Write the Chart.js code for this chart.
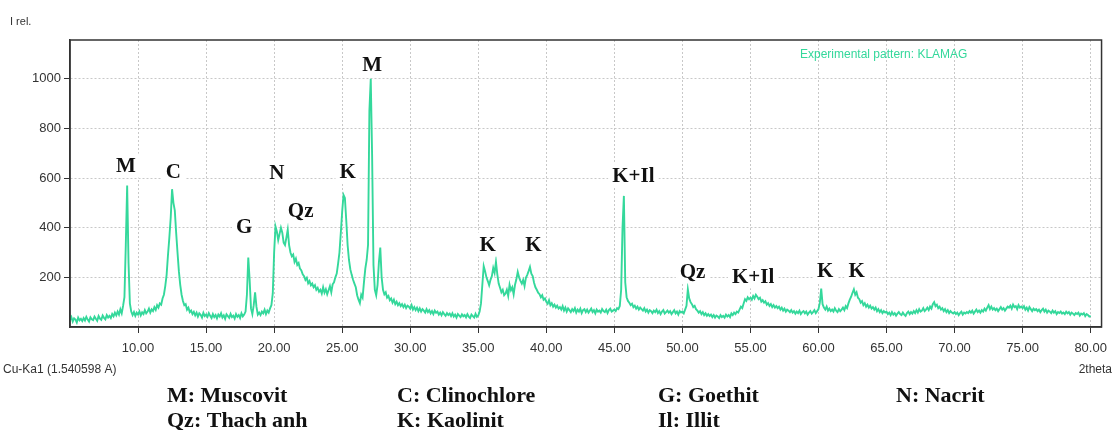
<!DOCTYPE html>
<html>
<head>
<meta charset="utf-8">
<script src="https://cdn.jsdelivr.net/npm/chart.js@4.4.0/dist/chart.umd.min.js"></script>
<style>
  html, body { margin: 0; padding: 0; background: #fff; }
  #wrap { width: 1115px; height: 430px; position: relative; }
</style>
</head>
<body>
<div id="wrap"><canvas id="xrd"></canvas></div>
<script>
// ---- data (2theta 5.0 .. 80.0, step 0.1) ----
const thetaStart = 5.0;
const thetaStep = 0.1;
const intensity = [
  /* 5 */ 28, 40, 22, 35, 30, 18, 38, 27, 33, 24,
  /* 6 */ 36, 26, 41, 30, 22, 39, 31, 28, 42, 33,
  /* 7 */ 25, 44, 34, 29, 46, 37, 31, 48, 38, 45,
  /* 8 */ 36, 52, 43, 58, 47, 62, 50, 71, 55, 85,
  /* 9 */ 120, 330, 570, 260, 95, 62, 48, 60, 45, 58,
  /*10 */ 50, 63, 47, 59, 52, 68, 55, 62, 74, 58,
  /*11 */ 71, 64, 80, 69, 88, 78, 95, 90, 115, 130,
  /*12 */ 165, 210, 290, 360, 440, 555, 500, 470, 380, 300,
  /*13 */ 225, 170, 130, 105, 88, 92, 70, 78, 60, 66,
  /*14 */ 52, 61, 47, 58, 42, 55, 49, 38, 57, 44,
  /*15 */ 50, 41, 56, 45, 36, 52, 40, 48, 35, 50,
  /*16 */ 42, 55, 38, 47, 33, 51, 44, 37, 53, 40,
  /*17 */ 46, 34, 52, 41, 48, 36, 55, 43, 50, 62,
  /*18 */ 130, 280, 190, 75, 52, 88, 140, 82, 50, 58,
  /*19 */ 48, 62, 55, 70, 52, 66, 58, 75, 88, 135,
  /*20 */ 300, 405, 385, 350, 375, 400, 380, 340, 330, 360,
  /*21 */ 392, 330, 300, 285, 292, 262, 275, 250, 258, 235,
  /*22 */ 228, 212, 205, 190, 198, 176, 185, 168, 175, 160,
  /*23 */ 168, 150, 158, 142, 150, 135, 160, 138, 152, 132,
  /*24 */ 148, 165, 140, 172, 180, 200, 215, 255, 300, 380,
  /*25 */ 465, 532, 520, 430, 330, 270, 232, 210, 190, 175,
  /*26 */ 160, 128, 110, 96, 130, 118, 180, 235, 270, 330,
  /*27 */ 870, 1000, 690, 250, 150, 128, 170, 262, 320, 200,
  /*28 */ 150, 132, 140, 118, 125, 108, 115, 98, 110, 92,
  /*29 */ 102, 88, 96, 84, 92, 80, 90, 76, 86, 82,
  /*30 */ 74, 88, 70, 80, 68, 78, 64, 75, 62, 72,
  /*31 */ 66, 58, 72, 60, 68, 55, 64, 52, 66, 57,
  /*32 */ 62, 50, 58, 47, 60, 52, 45, 56, 48, 54,
  /*33 */ 44, 55, 42, 50, 38, 52, 46, 40, 51, 43,
  /*34 */ 48, 39, 52, 42, 36, 50, 44, 38, 53, 41,
  /*35 */ 46, 62, 95, 170, 245, 225, 200, 185, 168, 190,
  /*36 */ 205, 238, 218, 262, 212, 175, 158, 140, 150, 128,
  /*37 */ 135, 150, 125, 170, 148, 160, 132, 170, 192, 222,
  /*38 */ 200, 186, 175, 190, 165, 198, 210, 225, 242, 215,
  /*39 */ 205, 178, 160, 150, 138, 132, 120, 128, 110, 115,
  /*40 */ 102, 94, 108, 88, 96, 82, 90, 78, 86, 74,
  /*41 */ 80, 70, 84, 66, 78, 62, 75, 68, 60, 72,
  /*42 */ 64, 76, 58, 70, 62, 74, 56, 68, 72, 60,
  /*43 */ 70, 58, 66, 74, 60, 68, 55, 70, 62, 66,
  /*44 */ 58, 72, 64, 60, 70, 56, 68, 74, 62, 66,
  /*45 */ 70, 64, 76, 72, 85, 150, 400, 528, 180, 120,
  /*46 */ 105, 98, 88, 94, 80, 86, 74, 82, 70, 78,
  /*47 */ 72, 66, 76, 62, 70, 58, 68, 64, 56, 66,
  /*48 */ 60, 70, 56, 64, 52, 62, 68, 54, 60, 66,
  /*49 */ 58, 64, 52, 60, 68, 55, 62, 50, 64, 58,
  /*50 */ 62, 55, 70, 85, 152, 115, 100, 92, 80, 85,
  /*51 */ 72, 66, 58, 64, 52, 60, 48, 55, 45, 52,
  /*52 */ 44, 50, 40, 48, 38, 46, 42, 36, 48, 40,
  /*53 */ 45, 38, 50, 42, 48, 40, 55, 48, 58, 52,
  /*54 */ 62, 58, 70, 82, 76, 95, 112, 105, 120, 112,
  /*55 */ 118, 110, 125, 115, 130, 122, 112, 118, 102, 108,
  /*56 */ 98, 104, 90, 96, 85, 92, 80, 88, 78, 84,
  /*57 */ 76, 82, 70, 78, 66, 74, 62, 70, 66, 60,
  /*58 */ 68, 58, 64, 54, 62, 56, 66, 52, 60, 64,
  /*59 */ 55, 62, 50, 58, 64, 54, 60, 68, 56, 64,
  /*60 */ 72, 98, 155, 92, 78, 70, 82, 66, 74, 64,
  /*61 */ 70, 62, 76, 66, 60, 72, 64, 70, 78, 68,
  /*62 */ 84, 76, 95, 110, 122, 138, 152, 130, 140, 118,
  /*63 */ 112, 98, 104, 88, 96, 82, 90, 78, 86, 74,
  /*64 */ 80, 70, 78, 64, 72, 60, 68, 56, 64, 58,
  /*65 */ 62, 52, 58, 48, 60, 50, 56, 46, 54, 60,
  /*66 */ 52, 48, 58, 50, 45, 56, 62, 52, 60, 54,
  /*67 */ 64, 56, 68, 58, 72, 62, 66, 76, 64, 70,
  /*68 */ 78, 68, 82, 74, 92, 100, 84, 90, 76, 82,
  /*69 */ 70, 76, 64, 72, 60, 68, 56, 64, 58, 54,
  /*70 */ 60, 52, 58, 48, 56, 62, 50, 58, 54, 60,
  /*71 */ 56, 64, 58, 66, 54, 62, 70, 60, 66, 58,
  /*72 */ 68, 62, 74, 66, 78, 88, 72, 82, 70, 76,
  /*73 */ 68, 74, 64, 72, 80, 70, 76, 66, 74, 82,
  /*74 */ 78, 86, 74, 90, 80, 84, 72, 88, 78, 82,
  /*75 */ 76, 84, 70, 78, 66, 80, 72, 64, 74, 68,
  /*76 */ 72, 64, 70, 60, 68, 74, 62, 70, 58, 66,
  /*77 */ 62, 56, 66, 58, 64, 52, 60, 56, 62, 54,
  /*78 */ 58, 52, 62, 55, 60, 50, 58, 54, 48, 56,
  /*79 */ 52, 58, 46, 54, 50, 56, 44, 52, 48, 42,
  /*80 */ 45
];

// x ticks and y ticks shown on the axes
const xTickValues = [10, 15, 20, 25, 30, 35, 40, 45, 50, 55, 60, 65, 70, 75, 80];
const yTickValues = [200, 400, 600, 800, 1000];

// phase labels above the peaks (text, 2theta, intensity level)
const peakText  = ["M", "C", "G", "N", "Qz", "K", "M", "K", "K", "K+Il", "Qz", "K+Il", "K", "K"];
const peakTheta = [9.1, 12.6, 17.8, 20.2, 21.95, 25.4, 27.2, 35.7, 39.05, 46.4, 50.75, 55.2, 60.5, 62.8];
const peakLevel = [650, 628, 404, 624, 468, 628, 1056, 332, 332, 608, 224, 204, 228, 228];

// legend of phases below the chart
const legendRow1 = ["M: Muscovit", "C: Clinochlore", "G: Goethit", "N: Nacrit"];
const legendRow2 = ["Qz: Thach anh", "K: Kaolinit", "Il: Illit"];

const GREEN = "#34d89b";

const points = intensity.map((v, i) => ({
    x: +(thetaStart + i * thetaStep).toFixed(1),
    y: v
}));

// ---- texts, frame, labels ----
const decorPlugin = {
    id: "decor",
    afterDraw(chart) {
        const ctx = chart.ctx;
        const a = chart.chartArea;
        const xs = chart.scales.x;
        const ys = chart.scales.y;

        ctx.save();
        // frame
        ctx.strokeStyle = "#333";
        ctx.lineWidth = 1.5;
        ctx.strokeRect(a.left, a.top, a.right - a.left, a.bottom - a.top);

        // peak labels
        ctx.font = "bold 21px 'Liberation Serif', 'Times New Roman', serif";
        ctx.textAlign = "center";
        ctx.textBaseline = "middle";
        peakText.forEach((t, i) => {
            const px = xs.getPixelForValue(peakTheta[i]);
            const py = ys.getPixelForValue(peakLevel[i]);
            const w = ctx.measureText(t).width;
            ctx.fillStyle = "#fff";
            ctx.fillRect(px - w / 2 - 4, py - 12, w + 8, 24);
            ctx.fillStyle = "#111";
            ctx.fillText(t, px, py + 1);
        });

        // small texts
        ctx.font = "12px 'Liberation Sans', Arial, sans-serif";
        ctx.fillStyle = GREEN;
        ctx.textAlign = "left";
        ctx.fillText("Experimental pattern: KLAMAG", 800, 55);

        ctx.fillStyle = "#333";
        ctx.font = "11px 'Liberation Sans', Arial, sans-serif";
        ctx.fillText("I rel.", 10, 22);
        ctx.font = "12px 'Liberation Sans', Arial, sans-serif";
        ctx.fillText("Cu-Ka1 (1.540598 A)", 3, 370);
        ctx.textAlign = "right";
        ctx.fillText("2theta", 1112, 370);

        // phase legend
        ctx.font = "bold 22px 'Liberation Serif', 'Times New Roman', serif";
        ctx.fillStyle = "#111";
        ctx.textAlign = "left";
        ctx.textBaseline = "alphabetic";
        const cols = [167, 397, 658, 896];
        legendRow1.forEach((t, i) => ctx.fillText(t, cols[i], 402));
        legendRow2.forEach((t, i) => ctx.fillText(t, cols[i], 427));
        ctx.restore();
    }
};

const gridOpts = {
    color: "#c8c8c8",
    tickColor: "#333",
    tickLength: 6,
    tickBorderDash: []
};

new Chart(document.getElementById("xrd"), {
    type: "line",
    data: {
        datasets: [{
            label: "Experimental pattern: KLAMAG",
            data: points,
            borderColor: GREEN,
            borderWidth: 1.9,
            pointRadius: 0,
            tension: 0,
            fill: false
        }]
    },
    options: {
        responsive: true,
        maintainAspectRatio: false,
        animation: false,
        layout: { padding: { left: 0, top: 40, right: 7, bottom: 73 } },
        plugins: {
            legend: { display: false },
            tooltip: { enabled: false }
        },
        scales: {
            x: {
                type: "linear",
                min: 5,
                max: 80.8,
                afterBuildTicks: s => { s.ticks = xTickValues.map(v => ({ value: v })); },
                afterFit: s => { s.height = 30; },
                ticks: {
                    autoSkip: false,
                    maxRotation: 0,
                    padding: 8,
                    color: "#333",
                    font: { family: "'Liberation Sans', Arial, sans-serif", size: 13 },
                    callback: v => Number(v).toFixed(2)
                },
                grid: gridOpts,
                border: { display: true, color: "#333", width: 1.5, dash: [2, 2] }
            },
            y: {
                min: 0,
                max: 1156,
                afterBuildTicks: s => { s.ticks = yTickValues.map(v => ({ value: v })); },
                afterFit: s => { s.width = 70; },
                ticks: {
                    padding: 3,
                    color: "#333",
                    font: { family: "'Liberation Sans', Arial, sans-serif", size: 13 },
                    callback: v => String(v)
                },
                grid: gridOpts,
                border: { display: true, color: "#333", width: 1.5, dash: [2, 2] }
            }
        }
    },
    plugins: [decorPlugin]
});
</script>
</body>
</html>
